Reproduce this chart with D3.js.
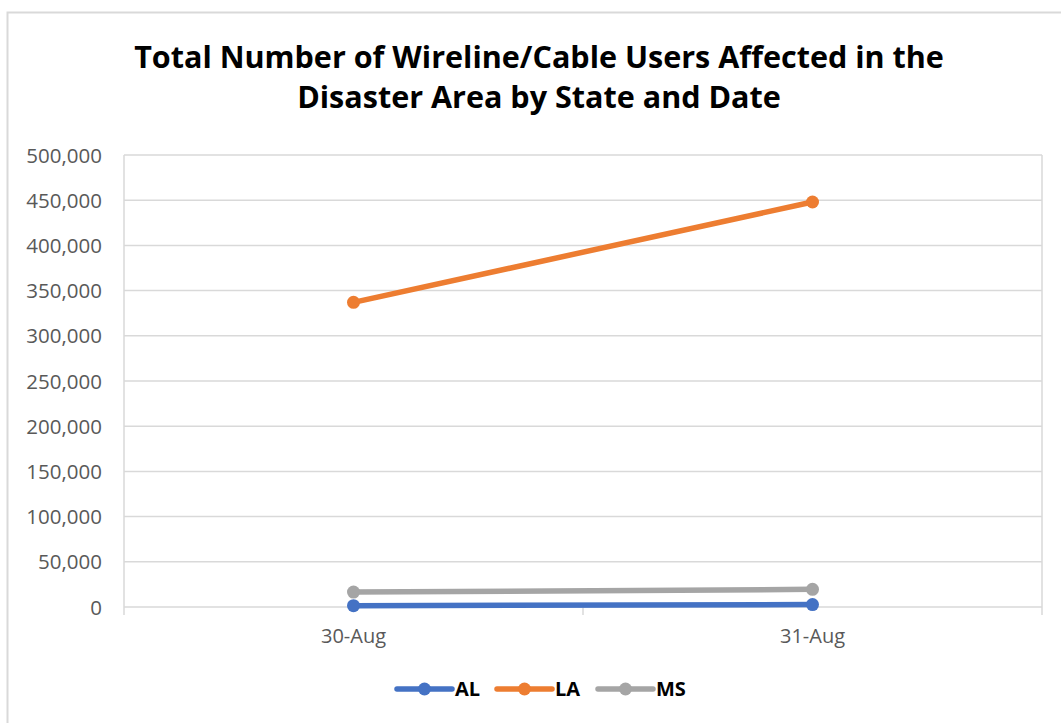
<!DOCTYPE html>
<html>
<head>
<meta charset="utf-8">
<script src="https://cdn.jsdelivr.net/npm/d3@7"></script>
<style>
  html, body { margin: 0; padding: 0; background: #fff; }
  svg { display: block; }
  text { font-family: "Open Sans", "Noto Sans", sans-serif; }
</style>
</head>
<body>
<svg id="chart" width="1061" height="723"></svg>
<script>
// chart values
var dates = ["30-Aug", "31-Aug"];
var states = ["AL", "LA", "MS"];
var AL = [1500, 2700];
var LA = [337000, 448000];
var MS = [16500, 19500];
var yTicks = [0, 50000, 100000, 150000, 200000, 250000, 300000, 350000, 400000, 450000, 500000];
var colors = ["#4472C4", "#ED7D31", "#A5A5A5"];
var titleLines = ["Total Number of Wireline/Cable Users Affected in the",
                  "Disaster Area by State and Date"];

var seriesValues = [AL, LA, MS];

var svg = d3.select("#chart");
var W = 1061, H = 723;

// chart border
svg.append("rect")
    .attr("x", 7.5).attr("y", 12.5)
    .attr("width", W + 10).attr("height", H + 10)
    .attr("fill", "#fff")
    .attr("stroke", "#d9d9d9").attr("stroke-width", 2);

var plot = {left: 124, right: 1042, top: 155, bottom: 607};

var x = d3.scaleBand().domain(dates).range([plot.left, plot.right]);
var y = d3.scaleLinear().domain([0, 500000]).range([plot.bottom, plot.top]);

// title
var title = svg.append("text")
    .attr("text-anchor", "middle")
    .attr("font-weight", "bold")
    .attr("font-size", 28)
    .attr("fill", "#000");
title.selectAll("tspan")
    .data(titleLines)
    .enter().append("tspan")
    .attr("x", 539)
    .attr("y", function(d, i) { return 68 + i * 40; })
    .text(function(d) { return d; });
// squeeze the bold font to the width of the original first line
var firstLen = title.select("tspan").node().getComputedTextLength();
title.attr("font-size", 28 * 810 / firstLen);

// gridlines
svg.append("g")
    .selectAll("line")
    .data(yTicks)
    .enter().append("line")
    .attr("x1", plot.left).attr("x2", plot.right)
    .attr("y1", function(d) { return y(d); })
    .attr("y2", function(d) { return y(d); })
    .attr("stroke", "#d9d9d9").attr("stroke-width", 1.5);

// y axis
var yAxis = svg.append("g")
    .attr("transform", "translate(" + plot.left + ",0)")
    .call(d3.axisLeft(y).tickValues(yTicks).tickSize(0).tickPadding(22)
        .tickFormat(d3.format(",")));
yAxis.select(".domain").remove();
yAxis.selectAll("text")
    .attr("font-size", 20.5)
    .attr("fill", "#595959")
    .attr("dy", "0.35em");

// vertical lines at the plot edges and the category tick
svg.append("g")
    .selectAll("line")
    .data([plot.left, plot.right])
    .enter().append("line")
    .attr("x1", function(d) { return d; }).attr("x2", function(d) { return d; })
    .attr("y1", plot.top).attr("y2", plot.bottom + 8)
    .attr("stroke", "#d9d9d9").attr("stroke-width", 1.5);

var xAxis = svg.append("g")
    .attr("transform", "translate(0," + plot.bottom + ")")
    .call(d3.axisBottom(x).tickSize(0).tickPadding(22));
xAxis.select(".domain").remove();
xAxis.selectAll("text")
    .attr("font-size", 20)
    .attr("fill", "#595959");
svg.append("line")
    .attr("x1", x("31-Aug")).attr("x2", x("31-Aug"))
    .attr("y1", plot.bottom).attr("y2", plot.bottom + 8)
    .attr("stroke", "#d9d9d9").attr("stroke-width", 1.5);

// series
var line = d3.line()
    .x(function(d, i) { return x(dates[i]) + x.bandwidth() / 2; })
    .y(function(d) { return y(d); });

seriesValues.forEach(function(vals, s) {
    var g = svg.append("g");
    g.append("path")
        .datum(vals)
        .attr("d", line)
        .attr("fill", "none")
        .attr("stroke", colors[s])
        .attr("stroke-width", 5.5)
        .attr("stroke-linecap", "round");
    g.selectAll("circle")
        .data(vals)
        .enter().append("circle")
        .attr("cx", function(d, i) { return x(dates[i]) + x.bandwidth() / 2; })
        .attr("cy", function(d) { return y(d); })
        .attr("r", 6.5)
        .attr("fill", colors[s]);
});

// legend
var legendX = [397, 497, 598];
var legend = svg.append("g")
    .selectAll("g")
    .data(states)
    .enter().append("g")
    .attr("transform", function(d, i) { return "translate(" + legendX[i] + ",689)"; });
legend.append("line")
    .attr("x1", 0).attr("x2", 55)
    .attr("stroke", function(d, i) { return colors[i]; })
    .attr("stroke-width", 5.5)
    .attr("stroke-linecap", "round");
legend.append("circle")
    .attr("cx", 27.5).attr("r", 6.5)
    .attr("fill", function(d, i) { return colors[i]; });
legend.append("text")
    .attr("x", 58).attr("dy", "0.35em")
    .attr("font-size", 20)
    .attr("font-weight", "bold")
    .attr("fill", "#000")
    .text(function(d) { return d; });
</script>
</body>
</html>
